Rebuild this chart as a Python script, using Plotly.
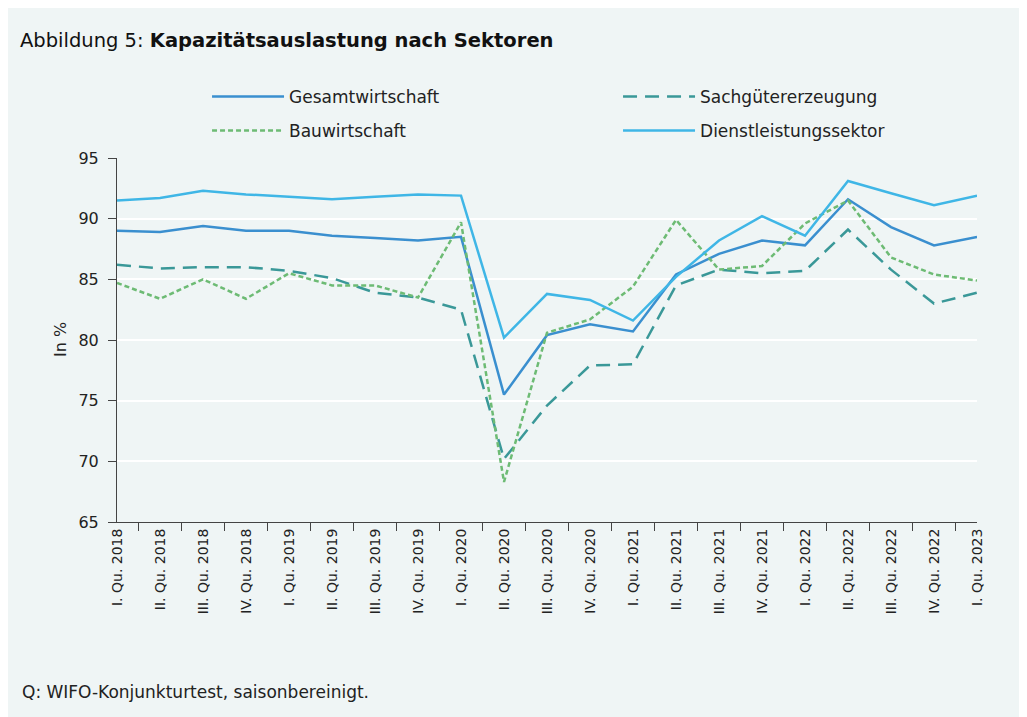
import plotly.graph_objects as go

quartale = ['I. Qu. 2018', 'II. Qu. 2018', 'III. Qu. 2018', 'IV. Qu. 2018',
            'I. Qu. 2019', 'II. Qu. 2019', 'III. Qu. 2019', 'IV. Qu. 2019',
            'I. Qu. 2020', 'II. Qu. 2020', 'III. Qu. 2020', 'IV. Qu. 2020',
            'I. Qu. 2021', 'II. Qu. 2021', 'III. Qu. 2021', 'IV. Qu. 2021',
            'I. Qu. 2022', 'II. Qu. 2022', 'III. Qu. 2022', 'IV. Qu. 2022',
            'I. Qu. 2023']

gesamtwirtschaft = [89.0, 88.9, 89.4, 89.0, 89.0, 88.6, 88.4, 88.2, 88.5, 75.5, 80.4,
                    81.3, 80.7, 85.4, 87.1, 88.2, 87.8, 91.6, 89.3, 87.8, 88.5]
sachgueter = [86.2, 85.9, 86.0, 86.0, 85.7, 85.1, 83.9, 83.5, 82.5, 70.2, 74.6,
              77.9, 78.0, 84.5, 85.8, 85.5, 85.7, 89.1, 85.8, 83.0, 83.9]
bau = [84.7, 83.4, 85.0, 83.4, 85.5, 84.5, 84.5, 83.5, 89.7, 68.3, 80.6,
       81.7, 84.4, 89.9, 85.8, 86.1, 89.6, 91.5, 86.8, 85.4, 84.9]
dienstleistung = [91.5, 91.7, 92.3, 92.0, 91.8, 91.6, 91.8, 92.0, 91.9, 80.2, 83.8,
                  83.3, 81.6, 85.2, 88.2, 90.2, 88.6, 93.1, 92.1, 91.1, 91.9]

schrift = 'DejaVu Sans'
bg = '#eff5f5'

fig = go.Figure()
fig.add_trace(go.Scatter(x=quartale, y=gesamtwirtschaft, mode='lines', name='Gesamtwirtschaft',
                         line=dict(color='#3a8fcf', width=2.5), legend='legend'))
fig.add_trace(go.Scatter(x=quartale, y=sachgueter, mode='lines', name='Sachgütererzeugung',
                         line=dict(color='#3a9898', width=2.5, dash='14px,8px'), legend='legend2'))
fig.add_trace(go.Scatter(x=quartale, y=bau, mode='lines', name='Bauwirtschaft',
                         line=dict(color='#6dbb74', width=2.5, dash='5px,3px'), legend='legend3'))
fig.add_trace(go.Scatter(x=quartale, y=dienstleistung, mode='lines', name='Dienstleistungssektor',
                         line=dict(color='#3fb6e6', width=2.5), legend='legend4'))

leg = dict(xanchor='left', yanchor='middle', itemwidth=72, font=dict(size=17),
           bgcolor='rgba(0,0,0,0)', borderwidth=0)

fig.update_layout(
    width=1027, height=717,
    paper_bgcolor=bg, plot_bgcolor=bg,
    font=dict(family=schrift, size=16, color='#222222'),
    margin=dict(l=109, r=58, t=150, b=203),
    title=dict(text='Abbildung 5: <b>Kapazitätsauslastung nach Sektoren</b>',
               x=12 / 1027, xanchor='left', y=1 - 32 / 717, yanchor='middle',
               font=dict(size=19.5, color='#111111')),
    legend=dict(leg, x=0.1047, y=1.1676),
    legend2=dict(leg, x=0.5826, y=1.1676),
    legend3=dict(leg, x=0.1047, y=1.0742),
    legend4=dict(leg, x=0.5826, y=1.0742),
    showlegend=True,
)
fig.update_xaxes(type='category', showgrid=False, showline=True, linecolor='#444444',
                 ticks='outside', tickson='boundaries', ticklen=8, tickcolor='#444444',
                 tickangle=-90, tickfont=dict(size=14))
fig.update_yaxes(range=[65, 95], dtick=5, showgrid=True, gridcolor='white', gridwidth=2,
                 showline=True, linecolor='#444444', ticks='outside', ticklen=8,
                 tickcolor='#444444', zeroline=False, tickfont=dict(size=16),
                 ticklabelstandoff=6)
fig.add_annotation(text='In %', xref='paper', yref='paper', x=(52 - 109) / 860, y=0.5,
                   textangle=-90, xanchor='center', yanchor='middle', showarrow=False,
                   font=dict(size=16))
fig.add_annotation(text='Q: WIFO-Konjunkturtest, saisonbereinigt.', xref='paper', yref='paper',
                   x=(12 - 109) / 860, y=-(684 - 514) / 364, xanchor='left', yanchor='middle',
                   showarrow=False, font=dict(size=17))

fig.write_html("out.html")
